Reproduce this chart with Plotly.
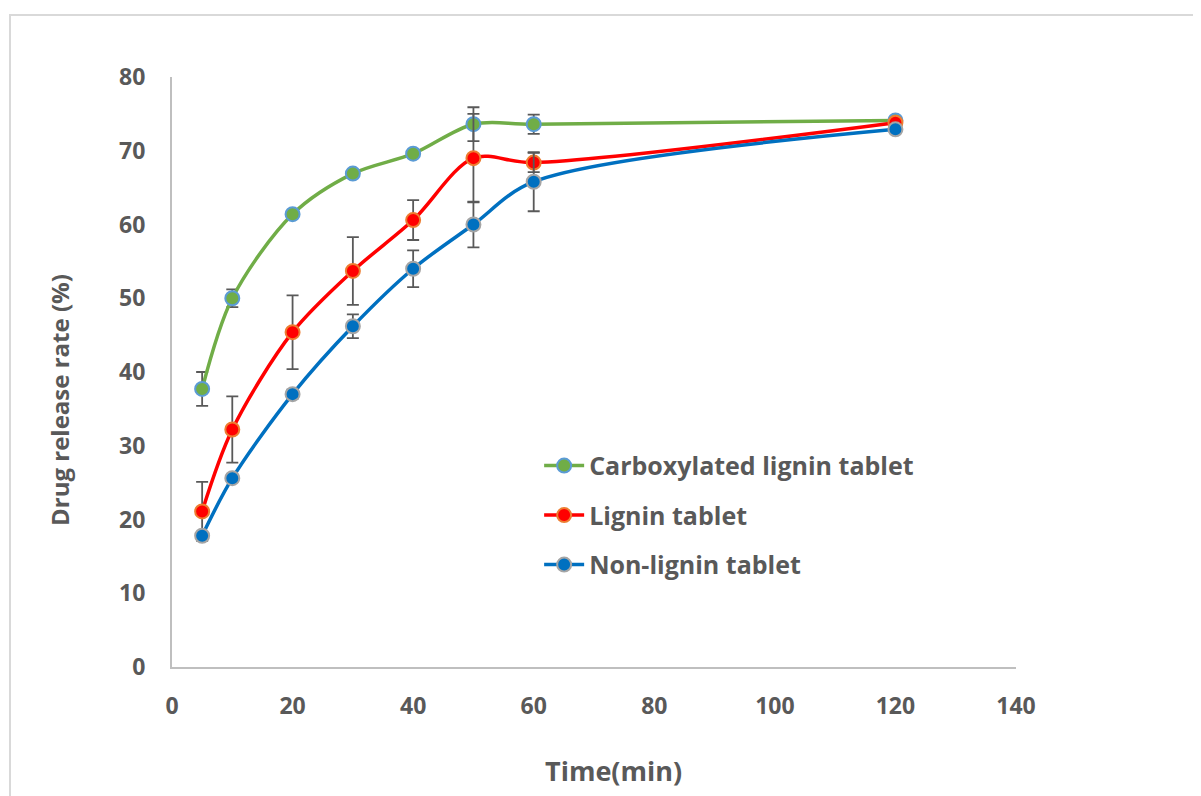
import plotly.graph_objects as go

time_min = [5, 10, 20, 30, 40, 50, 60, 120]

carbox = [37.7, 50.0, 61.4, 66.9, 69.6, 73.6, 73.6, 74.1]
carbox_err = [2.3, 1.2, 0.3, 0.3, 0.3, 2.3, 1.3, 0.3]

lignin = [21.1, 32.2, 45.4, 53.7, 60.6, 69.0, 68.4, 73.8]
lignin_err = [4.0, 4.5, 5.0, 4.6, 2.7, 6.0, 1.3, 0.3]

nonlignin = [17.8, 25.6, 37.0, 46.2, 54.0, 60.0, 65.8, 72.9]
nonlignin_err = [0.5, 0.5, 0.6, 1.6, 2.5, 3.1, 4.0, 0.4]

names = ["Carboxylated lignin tablet", "Lignin tablet", "Non-lignin tablet"]
series = [carbox, lignin, nonlignin]
errors = [carbox_err, lignin_err, nonlignin_err]
line_colors = ["#70AD47", "#FF0000", "#0070C0"]
marker_fill = ["#70AD47", "#FF0000", "#0070C0"]
marker_edge = ["#5B9BD5", "#ED7D31", "#A5A5A5"]

x_title = "Time(min)"
y_title = "Drug release rate (%)"

FONT = "Open Sans"
TXT = "#595959"

fig = go.Figure()
for i in range(3):
    fig.add_trace(go.Scatter(
        x=time_min, y=series[i], name=names[i], mode="lines+markers",
        legendgroup=str(i),
        line=dict(color=line_colors[i], width=3.5, shape="spline", smoothing=0.9),
        marker=dict(symbol="circle", size=14, color=marker_fill[i],
                    line=dict(color=marker_edge[i], width=2)),
        error_y=dict(type="data", array=errors[i], visible=True,
                     color="#595959", thickness=1.8, width=6),
    ))

fig.update_layout(
    width=1201, height=796,
    margin=dict(l=164, r=193, t=69, b=137),
    paper_bgcolor="white", plot_bgcolor="white",
    font=dict(family=FONT, color=TXT),
    showlegend=True,
    legend=dict(x=0.435, y=0.38, xanchor="left", yanchor="top",
                font=dict(family=FONT, size=25, color=TXT, weight="bold"),
                bgcolor="rgba(0,0,0,0)", tracegroupgap=14,
                traceorder="grouped", itemwidth=40),
    xaxis=dict(range=[0, 140], dtick=20, tick0=0, showgrid=False, zeroline=False,
               showline=True, linecolor="#BFBFBF", linewidth=2,
               ticks="outside", ticklen=17, tickcolor="rgba(0,0,0,0)",
               tickfont=dict(family=FONT, size=23, color=TXT, weight="bold")),
    yaxis=dict(range=[0, 80], dtick=10, tick0=0, showgrid=False, zeroline=False,
               showline=True, linecolor="#BFBFBF", linewidth=2,
               ticks="outside", ticklen=20, tickcolor="rgba(0,0,0,0)",
               tickfont=dict(family=FONT, size=23, color=TXT, weight="bold")),
    annotations=[
        dict(text=x_title, xref="paper", yref="paper", x=(613 - 172) / 844,
             y=(667 - 770) / 590, xanchor="center", yanchor="middle", showarrow=False,
             font=dict(family=FONT, size=27, color=TXT, weight="bold")),
        dict(text=y_title, xref="paper", yref="paper", x=(60 - 172) / 844,
             y=(667 - 400) / 590, xanchor="center", yanchor="middle", showarrow=False,
             textangle=-90,
             font=dict(family=FONT, size=24, color=TXT, weight="bold")),
    ],
)

fig.add_shape(type="rect", xref="paper", yref="paper",
              x0=(10 - 172) / 844, x1=1.4, y0=-0.4, y1=1 + (77 - 15) / 590,
              line=dict(color="#D9D9D9", width=2), fillcolor="rgba(0,0,0,0)", layer="below")

fig.write_html("out.html")
